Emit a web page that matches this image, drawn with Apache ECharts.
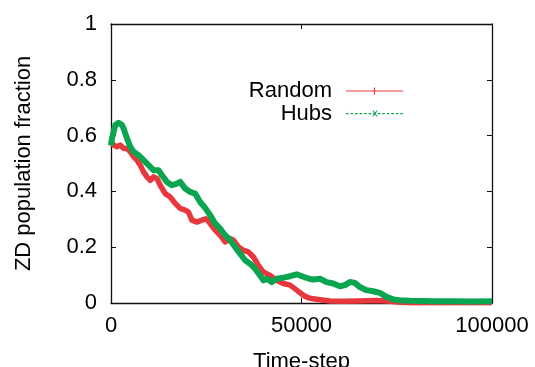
<!DOCTYPE html>
<html><head><meta charset="utf-8">
<script src="https://cdn.jsdelivr.net/npm/echarts@6/dist/echarts.min.js"></script>
<style>html,body{margin:0;padding:0;background:#fff}#c{width:535px;height:367px}</style>
</head><body><div id="c"></div>
<script>
// ---- data ----
const seriesNames = ['Random', 'Hubs'];
const xTickValues = [0, 50000, 100000];
const yTickValues = [0, 0.2, 0.4, 0.6, 0.8, 1];
const timeRandom = [0, 680, 1570, 2440, 3300, 4190, 5060, 5920, 6810, 7680, 8540, 9430, 10300, 11160, 12050, 12920, 14230, 15540, 16850, 18160, 19470, 20330, 21230, 22540, 23850, 24900, 26020, 27330, 28640, 29950, 31260, 32130, 33440, 34750, 36060, 37380, 38680, 40000, 41750, 43500, 45240, 46990, 48740, 50470, 51780, 53100, 54850, 57470, 60960, 65330, 69700, 73190, 76000, 79000, 85000, 90000, 95000, 100000];
const fracRandom = [0.578, 0.566, 0.56, 0.566, 0.554, 0.554, 0.542, 0.524, 0.512, 0.494, 0.47, 0.452, 0.44, 0.452, 0.446, 0.422, 0.392, 0.38, 0.357, 0.339, 0.333, 0.326, 0.297, 0.29, 0.297, 0.302, 0.285, 0.261, 0.243, 0.219, 0.231, 0.225, 0.201, 0.189, 0.183, 0.165, 0.135, 0.111, 0.099, 0.081, 0.07, 0.064, 0.046, 0.028, 0.019, 0.015, 0.012, 0.007, 0.006, 0.007, 0.009, 0.006, 0.003, 0.001, 0.001, 0.002, 0.001, 0.001];
const timeHubs = [0, 260, 1130, 2000, 2880, 3300, 4190, 5060, 5920, 7230, 8540, 9850, 11160, 12470, 13360, 14670, 15980, 17300, 18160, 19470, 20780, 22090, 23400, 24710, 26020, 27330, 28640, 29950, 31260, 32570, 33890, 35200, 36510, 37810, 39120, 40000, 40880, 42190, 43500, 45240, 46990, 48740, 50470, 52230, 53100, 54850, 56600, 58330, 60090, 61400, 62710, 64020, 65330, 67080, 68820, 70570, 72330, 74060, 75810, 78430, 85000, 90000, 95000, 100000];
const fracHubs = [0.565, 0.59, 0.638, 0.646, 0.638, 0.626, 0.59, 0.56, 0.542, 0.53, 0.512, 0.494, 0.476, 0.476, 0.458, 0.434, 0.422, 0.428, 0.434, 0.41, 0.398, 0.392, 0.362, 0.341, 0.315, 0.285, 0.267, 0.243, 0.225, 0.201, 0.177, 0.153, 0.141, 0.123, 0.099, 0.081, 0.087, 0.075, 0.087, 0.091, 0.096, 0.103, 0.094, 0.086, 0.084, 0.087, 0.075, 0.07, 0.06, 0.064, 0.075, 0.072, 0.057, 0.046, 0.042, 0.036, 0.022, 0.013, 0.01, 0.008, 0.006, 0.006, 0.005, 0.006];

// ---- styling ----
const RED = '#e8383d';
const GREEN = '#0aa550';
const FONT = 'Liberation Sans, Arial, sans-serif';
const zip = (a, b) => a.map((t, i) => [t, b[i]]);

// legend icons (line sample with marker)
const redIcon = 'path://M0,4.4L57,4.4L57,5.6L0,5.6Z M27.9,1.5L29.1,1.5L29.1,8.5L27.9,8.5Z';
let gPath = '';
for (let x = 0; x < 57; x += 4.5) {
  const e = Math.min(x + 2.6, 57);
  gPath += 'M' + x + ',4.4L' + e + ',4.4L' + e + ',5.6L' + x + ',5.6Z ';
}
gPath += 'M26,2L27.2,2L31.5,8L30.3,8Z M30.3,2L31.5,2L27.2,8L26,8Z';
const greenIcon = 'path://' + gPath.replace(/^M0,4.4/, 'M0,1.5L0.01,1.5L0.01,8.5L0,8.5Z M0,4.4');

const axisCommon = {
  type: 'value',
  splitLine: { show: false },
  axisLine: { show: true, onZero: false, lineStyle: { color: '#111', width: 1.3 } },
  axisTick: { show: true, inside: true, length: 5, lineStyle: { color: '#111', width: 1 } }
};

const chart = echarts.init(document.getElementById('c'), null, { renderer: 'canvas' });
chart.setOption({
  animation: false,
  backgroundColor: '#fff',
  grid: { left: 111, right: 43, top: 24, bottom: 64, containLabel: false, outerBoundsMode: 'none' },
  legend: {
    orient: 'vertical',
    right: 132,
    top: 80,
    align: 'right',
    itemWidth: 57,
    itemHeight: 9,
    itemGap: 0.6,
    padding: 0,
    selectedMode: false,
    itemStyle: { borderWidth: 0 },
    textStyle: { fontSize: 22, lineHeight: 22, color: '#000', fontFamily: FONT, padding: [0, 9, 0, 0] },
    data: [
      { name: seriesNames[0], icon: redIcon },
      { name: seriesNames[1], icon: greenIcon }
    ]
  },
  xAxis: [
    Object.assign({}, axisCommon, {
      position: 'bottom',
      min: xTickValues[0], max: xTickValues[xTickValues.length - 1],
      interval: xTickValues[1] - xTickValues[0],
      axisLabel: { formatter: v => String(v), fontSize: 22, color: '#000', fontFamily: FONT, margin: 12 },
      name: 'Time-step', nameLocation: 'middle', nameGap: 48,
      nameTextStyle: { fontSize: 22, color: '#000', fontFamily: FONT }
    }),
    Object.assign({}, axisCommon, {
      position: 'top',
      min: xTickValues[0], max: xTickValues[xTickValues.length - 1],
      interval: xTickValues[1] - xTickValues[0],
      axisLabel: { show: false }
    })
  ],
  yAxis: [
    Object.assign({}, axisCommon, {
      position: 'left',
      min: yTickValues[0], max: yTickValues[yTickValues.length - 1],
      interval: yTickValues[1] - yTickValues[0],
      axisLabel: { formatter: v => String(+v.toFixed(1)), fontSize: 22, color: '#000', fontFamily: FONT, margin: 14 },
      name: 'ZD population fraction', nameLocation: 'middle', nameGap: 76, nameRotate: 90,
      nameTextStyle: { fontSize: 22, color: '#000', fontFamily: FONT }
    }),
    Object.assign({}, axisCommon, {
      position: 'right',
      min: yTickValues[0], max: yTickValues[yTickValues.length - 1],
      interval: yTickValues[1] - yTickValues[0],
      axisLabel: { show: false }
    })
  ],
  series: [
    {
      name: seriesNames[0], type: 'line', xAxisIndex: 0, yAxisIndex: 0,
      data: zip(timeRandom, fracRandom),
      symbol: 'none', showSymbol: false,
      lineStyle: { color: RED, width: 5.5, join: 'round' },
      itemStyle: { color: RED },
      z: 2
    },
    {
      name: seriesNames[1], type: 'line', xAxisIndex: 0, yAxisIndex: 0,
      data: zip(timeHubs, fracHubs),
      symbol: 'none', showSymbol: false,
      lineStyle: { color: GREEN, width: 6, join: 'round' },
      itemStyle: { color: GREEN },
      z: 3
    }
  ]
});
</script>
</body></html>
